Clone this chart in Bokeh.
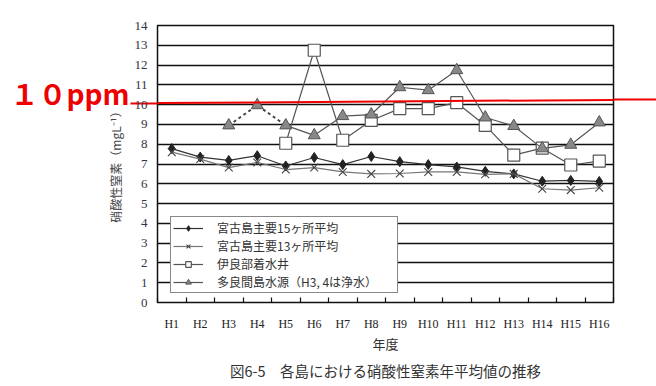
from bokeh.plotting import figure
from bokeh.models import FixedTicker, Legend, LegendItem, Title, LinearAxis
from bokeh.embed import file_html
from bokeh.resources import INLINE

nan = float("nan")
years = ["H1", "H2", "H3", "H4", "H5", "H6", "H7", "H8",
         "H9", "H10", "H11", "H12", "H13", "H14", "H15", "H16"]
miyako15 = [7.78, 7.35, 7.18, 7.42, 6.9, 7.33, 6.97, 7.38,
            7.12, 6.97, 6.85, 6.63, 6.5, 6.13, 6.17, 6.12]
miyako13 = [7.6, 7.25, 6.82, 7.08, 6.72, 6.82, 6.6, 6.5,
            6.52, 6.6, 6.6, 6.48, 6.5, 5.75, 5.68, 5.8]
irabu = [nan, nan, nan, nan, 8.05, 12.75, 8.2, 9.2,
         9.8, 9.8, 10.1, 8.95, 7.45, 7.8, 6.95, 7.15]
tarama = [nan, nan, 8.95, 9.97, 8.95, 8.45, 9.42, 9.5,
          10.88, 10.73, 11.74, 9.35, 8.92, 7.79, 7.97, 9.1]
# H3, H4 of tarama are purified water -> dashed link up to H5
tarama_dashed_until = 5
yticks = list(range(0, 15))
legend_labels = ["宮古島主要15ヶ所平均", "宮古島主要13ヶ所平均",
                 "伊良部着水井", "多良間島水源（H3, 4は浄水）"]
xlabel = "年度"
ylabel = "硝酸性窒素（mgL⁻¹）"
caption = "図6-5　各島における硝酸性窒素年平均値の推移"
# hand-drawn 10 ppm guide line (value at left edge / right edge of plot)
limit_text = "１０ppm"
limit_left = 10.08
limit_right = 10.24
limit_text_at = 10.6

xs = list(range(1, len(years) + 1))
jp = "Noto Sans CJK JP"
red = "#ee0000"

p = figure(width=656, height=386, output_backend="svg", toolbar_location=None,
           x_range=(0.5, len(years) + 0.5), y_range=(0, 14),
           min_border_left=157, min_border_right=43, min_border_top=25,
           min_border_bottom=84)
p.outline_line_color = "#111111"
p.outline_line_width = 1.5
p.xgrid.grid_line_color = None
p.ygrid.grid_line_color = "#111111"
p.ygrid.grid_line_width = 1.3
p.ygrid.ticker = FixedTicker(ticks=yticks)

xa = p.xaxis[0]
xa.ticker = FixedTicker(ticks=xs, minor_ticks=[x - 0.5 for x in xs] + [len(xs) + 0.5])
xa.major_label_overrides = {x: y for x, y in zip(xs, years)}
xa.major_tick_in = 0
xa.major_tick_out = 0
xa.minor_tick_in = 5
xa.minor_tick_out = 0
xa.minor_tick_line_color = "#111111"
xa.minor_tick_line_width = 1.2
xa.axis_line_color = None
xa.major_label_standoff = 14
xa.major_label_text_font = "Liberation Serif"
xa.major_label_text_font_size = "12px"
xa.major_label_text_color = "#222222"
xa.axis_label = xlabel
xa.axis_label_text_font = jp
xa.axis_label_text_font_style = "normal"
xa.axis_label_text_font_size = "13px"
xa.axis_label_text_color = "#333333"
xa.axis_label_standoff = 0

ya = p.yaxis[0]
ya.ticker = FixedTicker(ticks=yticks, minor_ticks=[limit_left])
ya.axis_line_color = None
ya.major_tick_in = 0
ya.major_tick_out = 0
ya.minor_tick_in = -27
ya.minor_tick_out = 0
ya.minor_tick_line_color = red
ya.minor_tick_line_width = 2
ya.major_label_standoff = 10
ya.major_label_text_font = "Liberation Serif"
ya.major_label_text_font_size = "13px"
ya.major_label_text_color = "#333344"
ya.axis_label = ylabel
ya.axis_label_text_font = jp
ya.axis_label_text_font_style = "normal"
ya.axis_label_text_font_size = "12px"
ya.axis_label_text_color = "#444444"
ya.axis_label_standoff = 8

# "10ppm" text as the label of an extra left axis
ta = LinearAxis(ticker=FixedTicker(ticks=[limit_text_at]),
                major_label_overrides={limit_text_at: limit_text})
ta.axis_line_color = None
ta.major_tick_line_color = None
ta.major_tick_in = 0
ta.major_tick_out = 0
ta.minor_tick_line_color = None
ta.major_label_standoff = -26
ta.major_label_text_font = jp
ta.major_label_text_font_style = "bold"
ta.major_label_text_font_size = "28px"
ta.major_label_text_color = red
p.add_layout(ta, "left")

# right-hand continuation of the guide line
ra = LinearAxis(ticker=FixedTicker(ticks=[], minor_ticks=[limit_right]))
ra.axis_line_color = None
ra.major_tick_line_color = None
ra.major_tick_out = 0
ra.major_label_standoff = 0
ra.major_label_text_font_size = "1px"
ra.minor_tick_in = -43
ra.minor_tick_out = 0
ra.minor_tick_line_color = red
ra.minor_tick_line_width = 2
p.add_layout(ra, "right")

line_col = "#555555"
r1l = p.line(xs, miyako15, line_color="#333333", line_width=1.2)
r1m = p.scatter(xs, miyako15, marker="diamond", size=10, fill_color="#222222", line_color="#222222")
r2l = p.line(xs, miyako13, line_color="#777777", line_width=1.2)
r2m = p.scatter(xs, miyako13, marker="x", size=11, line_color="#444444", line_width=1.1)
r3l = p.line(xs, irabu, line_color=line_col, line_width=1.2)
r3m = p.scatter(xs, irabu, marker="square", size=12, fill_color="white", line_color="#555555", line_width=1.2)
k = tarama_dashed_until
r4d = p.line(xs[:k], tarama[:k], line_color="#444444", line_width=2, line_dash="3 3")
r4l = p.line(xs[k - 1:], tarama[k - 1:], line_color=line_col, line_width=1.2)
r4m = p.scatter(xs, tarama, marker="triangle", size=12, fill_color="#888888", line_color="#555555", line_width=1)

# guide line across the plot area
p.line([xs[0] - 0.5, xs[-1] + 0.5], [limit_left, limit_right], line_color=red, line_width=2)

legend = Legend(items=[LegendItem(label=legend_labels[0], renderers=[r1l, r1m]),
                       LegendItem(label=legend_labels[1], renderers=[r2l, r2m]),
                       LegendItem(label=legend_labels[2], renderers=[r3l, r3m]),
                       LegendItem(label=legend_labels[3], renderers=[r4l, r4m])],
                location=(13, 9), orientation="vertical")
legend.label_text_font = jp
legend.label_text_font_size = "12px"
legend.label_text_color = "#333333"
legend.glyph_width = 30
legend.glyph_height = 14
legend.label_height = 14
legend.label_width = 178
legend.spacing = 1
legend.padding = 2
legend.margin = 0
legend.label_standoff = 14
legend.border_line_color = "#111111"
legend.border_line_width = 1.5
legend.background_fill_alpha = 1
p.add_layout(legend, "center")

cap = Title(text=caption, align="center", text_font=jp, text_font_style="normal",
            text_font_size="14.5px", text_color="#333333", standoff=4)
p.add_layout(cap, "below")

open("out.html", "w").write(file_html(p, INLINE))
